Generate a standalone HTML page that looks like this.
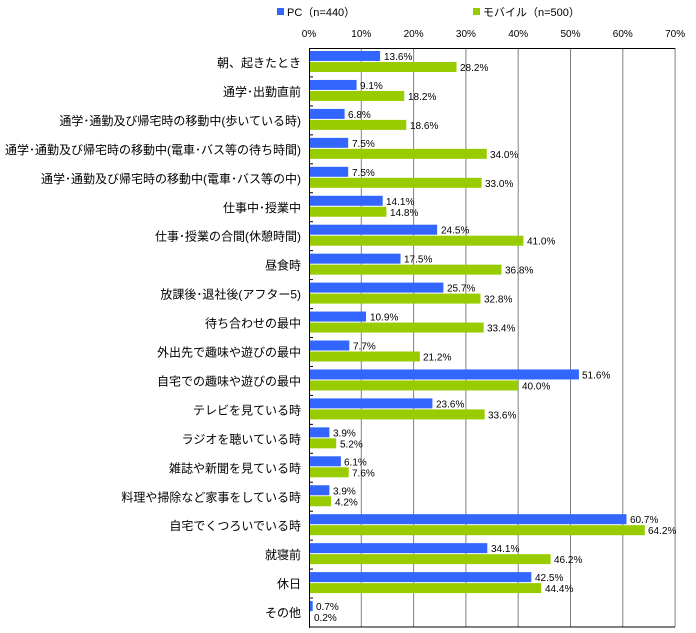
<!DOCTYPE html>
<html><head><meta charset="utf-8"><style>
html,body{margin:0;padding:0;background:#fff;}
svg{display:block;font-family:"Liberation Sans","Noto Sans CJK JP",sans-serif;}
.l{font-size:12px;text-anchor:end;fill:#000}
.v{font-size:10px;fill:#000}
.t{font-size:10px;text-anchor:middle;fill:#000}
</style></head><body>
<svg width="696" height="633" viewBox="0 0 696 633">
<!-- legend -->
<rect x="277" y="8" width="7" height="7" fill="#3366ff"/>
<text x="287" y="16" style="font-size:11px">PC（n=440）</text>
<rect x="473" y="8" width="7" height="7" fill="#99cc00"/>
<text x="483" y="16" style="font-size:11px">モバイル（n=500）</text>
<!-- ticks -->
<g class="t">
<text class="t" x="309" y="37">0%</text>
<text class="t" x="361.3" y="37">10%</text>
<text class="t" x="413.6" y="37">20%</text>
<text class="t" x="465.9" y="37">30%</text>
<text class="t" x="518.2" y="37">40%</text>
<text class="t" x="570.5" y="37">50%</text>
<text class="t" x="622.8" y="37">60%</text>
<text class="t" x="675.1" y="37">70%</text>
</g>
<g stroke="#808080" stroke-width="1">
<line x1="361.3" y1="48" x2="361.3" y2="627"/>
<line x1="413.6" y1="48" x2="413.6" y2="627"/>
<line x1="465.9" y1="48" x2="465.9" y2="627"/>
<line x1="518.2" y1="48" x2="518.2" y2="627"/>
<line x1="570.5" y1="48" x2="570.5" y2="627"/>
<line x1="622.8" y1="48" x2="622.8" y2="627"/>
<line x1="675.1" y1="48" x2="675.1" y2="627"/>
</g>
<line x1="309" y1="48.5" x2="675" y2="48.5" stroke="#000"/>
<line x1="309" y1="627" x2="675" y2="627" stroke="#000"/>

<g transform="translate(0,48)"><text class="l" x="301" y="19">朝、起きたとき</text><rect x="309" y="3" width="71.1" height="10" fill="#3366ff"/><rect x="309" y="14" width="147.5" height="10" fill="#99cc00"/><text class="v" x="384" y="12">13.6%</text><text class="v" x="460" y="23">28.2%</text></g>
<g transform="translate(0,76.95)"><text class="l" x="301" y="19">通学･出勤直前</text><rect x="309" y="3" width="47.6" height="10" fill="#3366ff"/><rect x="309" y="14" width="95.2" height="10" fill="#99cc00"/><text class="v" x="360" y="12">9.1%</text><text class="v" x="408" y="23">18.2%</text></g>
<g transform="translate(0,105.9)"><text class="l" x="301" y="19">通学･通勤及び帰宅時の移動中(歩いている時)</text><rect x="309" y="3" width="35.6" height="10" fill="#3366ff"/><rect x="309" y="14" width="97.3" height="10" fill="#99cc00"/><text class="v" x="348" y="12">6.8%</text><text class="v" x="410" y="23">18.6%</text></g>
<g transform="translate(0,134.85)"><text class="l" x="301" y="19">通学･通勤及び帰宅時の移動中(電車･バス等の待ち時間)</text><rect x="309" y="3" width="39.2" height="10" fill="#3366ff"/><rect x="309" y="14" width="177.8" height="10" fill="#99cc00"/><text class="v" x="352" y="12">7.5%</text><text class="v" x="490" y="23">34.0%</text></g>
<g transform="translate(0,163.8)"><text class="l" x="301" y="19">通学･通勤及び帰宅時の移動中(電車･バス等の中)</text><rect x="309" y="3" width="39.2" height="10" fill="#3366ff"/><rect x="309" y="14" width="172.6" height="10" fill="#99cc00"/><text class="v" x="352" y="12">7.5%</text><text class="v" x="485" y="23">33.0%</text></g>
<g transform="translate(0,192.75)"><text class="l" x="301" y="19">仕事中･授業中</text><rect x="309" y="3" width="73.7" height="10" fill="#3366ff"/><rect x="309" y="14" width="77.4" height="10" fill="#99cc00"/><text class="v" x="386" y="12">14.1%</text><text class="v" x="390" y="23">14.8%</text></g>
<g transform="translate(0,221.7)"><text class="l" x="301" y="19">仕事･授業の合間(休憩時間)</text><rect x="309" y="3" width="128.1" height="10" fill="#3366ff"/><rect x="309" y="14" width="214.4" height="10" fill="#99cc00"/><text class="v" x="441" y="12">24.5%</text><text class="v" x="527" y="23">41.0%</text></g>
<g transform="translate(0,250.65)"><text class="l" x="301" y="19">昼食時</text><rect x="309" y="3" width="91.5" height="10" fill="#3366ff"/><rect x="309" y="14" width="192.5" height="10" fill="#99cc00"/><text class="v" x="404" y="12">17.5%</text><text class="v" x="505" y="23">36.8%</text></g>
<g transform="translate(0,279.6)"><text class="l" x="301" y="19">放課後･退社後(アフター5)</text><rect x="309" y="3" width="134.4" height="10" fill="#3366ff"/><rect x="309" y="14" width="171.5" height="10" fill="#99cc00"/><text class="v" x="447" y="12">25.7%</text><text class="v" x="484" y="23">32.8%</text></g>
<g transform="translate(0,308.55)"><text class="l" x="301" y="19">待ち合わせの最中</text><rect x="309" y="3" width="57" height="10" fill="#3366ff"/><rect x="309" y="14" width="174.7" height="10" fill="#99cc00"/><text class="v" x="370" y="12">10.9%</text><text class="v" x="487" y="23">33.4%</text></g>
<g transform="translate(0,337.5)"><text class="l" x="301" y="19">外出先で趣味や遊びの最中</text><rect x="309" y="3" width="40.3" height="10" fill="#3366ff"/><rect x="309" y="14" width="110.9" height="10" fill="#99cc00"/><text class="v" x="353" y="12">7.7%</text><text class="v" x="423" y="23">21.2%</text></g>
<g transform="translate(0,366.45)"><text class="l" x="301" y="19">自宅での趣味や遊びの最中</text><rect x="309" y="3" width="269.9" height="10" fill="#3366ff"/><rect x="309" y="14" width="209.2" height="10" fill="#99cc00"/><text class="v" x="582" y="12">51.6%</text><text class="v" x="522" y="23">40.0%</text></g>
<g transform="translate(0,395.4)"><text class="l" x="301" y="19">テレビを見ている時</text><rect x="309" y="3" width="123.4" height="10" fill="#3366ff"/><rect x="309" y="14" width="175.7" height="10" fill="#99cc00"/><text class="v" x="436" y="12">23.6%</text><text class="v" x="488" y="23">33.6%</text></g>
<g transform="translate(0,424.35)"><text class="l" x="301" y="19">ラジオを聴いている時</text><rect x="309" y="3" width="20.4" height="10" fill="#3366ff"/><rect x="309" y="14" width="27.2" height="10" fill="#99cc00"/><text class="v" x="333" y="12">3.9%</text><text class="v" x="340" y="23">5.2%</text></g>
<g transform="translate(0,453.3)"><text class="l" x="301" y="19">雑誌や新聞を見ている時</text><rect x="309" y="3" width="31.9" height="10" fill="#3366ff"/><rect x="309" y="14" width="39.7" height="10" fill="#99cc00"/><text class="v" x="344" y="12">6.1%</text><text class="v" x="352" y="23">7.6%</text></g>
<g transform="translate(0,482.25)"><text class="l" x="301" y="19">料理や掃除など家事をしている時</text><rect x="309" y="3" width="20.4" height="10" fill="#3366ff"/><rect x="309" y="14" width="22" height="10" fill="#99cc00"/><text class="v" x="333" y="12">3.9%</text><text class="v" x="335" y="23">4.2%</text></g>
<g transform="translate(0,511.2)"><text class="l" x="301" y="19">自宅でくつろいでいる時</text><rect x="309" y="3" width="317.5" height="10" fill="#3366ff"/><rect x="309" y="14" width="335.8" height="10" fill="#99cc00"/><text class="v" x="630" y="12">60.7%</text><text class="v" x="648" y="23">64.2%</text></g>
<g transform="translate(0,540.15)"><text class="l" x="301" y="19">就寝前</text><rect x="309" y="3" width="178.3" height="10" fill="#3366ff"/><rect x="309" y="14" width="241.6" height="10" fill="#99cc00"/><text class="v" x="491" y="12">34.1%</text><text class="v" x="554" y="23">46.2%</text></g>
<g transform="translate(0,569.1)"><text class="l" x="301" y="19">休日</text><rect x="309" y="3" width="222.3" height="10" fill="#3366ff"/><rect x="309" y="14" width="232.2" height="10" fill="#99cc00"/><text class="v" x="535" y="12">42.5%</text><text class="v" x="545" y="23">44.4%</text></g>
<g transform="translate(0,598.05)"><text class="l" x="301" y="19">その他</text><rect x="309" y="3" width="3.7" height="10" fill="#3366ff"/><rect x="309" y="14" width="1" height="10" fill="#99cc00"/><text class="v" x="316" y="12">0.7%</text><text class="v" x="314" y="23">0.2%</text></g>

<!-- axis and category ticks -->
<line x1="309.5" y1="48" x2="309.5" y2="628" stroke="#000"/>
<g stroke="#000">
<line x1="309" y1="76.95" x2="313" y2="76.95"/><line x1="309" y1="105.9" x2="313" y2="105.9"/><line x1="309" y1="134.85" x2="313" y2="134.85"/><line x1="309" y1="163.8" x2="313" y2="163.8"/><line x1="309" y1="192.75" x2="313" y2="192.75"/><line x1="309" y1="221.7" x2="313" y2="221.7"/><line x1="309" y1="250.65" x2="313" y2="250.65"/><line x1="309" y1="279.6" x2="313" y2="279.6"/><line x1="309" y1="308.55" x2="313" y2="308.55"/><line x1="309" y1="337.5" x2="313" y2="337.5"/><line x1="309" y1="366.45" x2="313" y2="366.45"/><line x1="309" y1="395.4" x2="313" y2="395.4"/><line x1="309" y1="424.35" x2="313" y2="424.35"/><line x1="309" y1="453.3" x2="313" y2="453.3"/><line x1="309" y1="482.25" x2="313" y2="482.25"/><line x1="309" y1="511.2" x2="313" y2="511.2"/><line x1="309" y1="540.15" x2="313" y2="540.15"/><line x1="309" y1="569.1" x2="313" y2="569.1"/><line x1="309" y1="598.05" x2="313" y2="598.05"/>
</g>
</svg>
</body></html>
